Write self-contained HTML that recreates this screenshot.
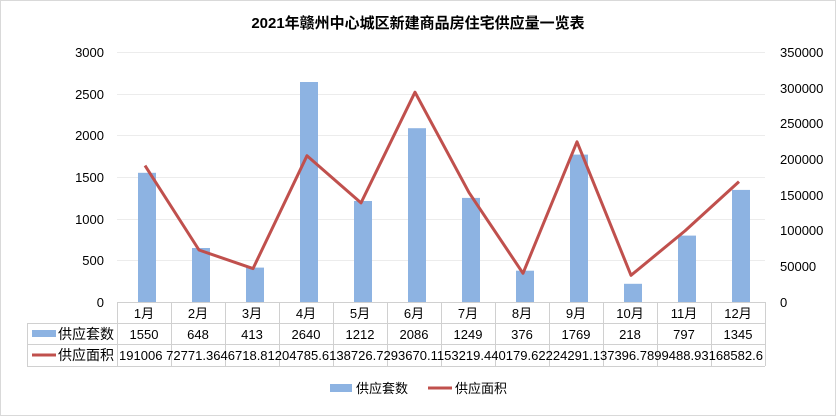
<!DOCTYPE html>
<html><head><meta charset="utf-8"><style>
html,body{margin:0;padding:0;background:#fff;}
svg{display:block;font-family:"Liberation Sans","Noto Sans CJK SC",sans-serif;}
</style></head><body>
<svg width="836" height="416" viewBox="0 0 836 416" xmlns="http://www.w3.org/2000/svg">
<rect x="0.5" y="0.5" width="835" height="415" fill="#fff" stroke="#d9d9d9"/>
<text x="418" y="28" text-anchor="middle" font-size="15" font-weight="bold" fill="#000">2021年赣州中心城区新建商品房住宅供应量一览表</text>
<g stroke="#ececec" stroke-width="1">
<line x1="117" y1="52.5" x2="765" y2="52.5"/>
<line x1="117" y1="94.5" x2="765" y2="94.5"/>
<line x1="117" y1="135.5" x2="765" y2="135.5"/>
<line x1="117" y1="177.5" x2="765" y2="177.5"/>
<line x1="117" y1="219.5" x2="765" y2="219.5"/>
<line x1="117" y1="260.5" x2="765" y2="260.5"/>
</g>
<g font-size="13" fill="#000" text-anchor="end">
<text x="104" y="57">3000</text><text x="104" y="99">2500</text><text x="104" y="140">2000</text>
<text x="104" y="182">1500</text><text x="104" y="224">1000</text><text x="104" y="265">500</text><text x="104" y="307">0</text>
</g>
<g font-size="13" fill="#000">
<text x="780" y="57">350000</text><text x="780" y="93">300000</text><text x="780" y="128">250000</text>
<text x="780" y="164">200000</text><text x="780" y="200">150000</text><text x="780" y="235">100000</text>
<text x="780" y="271">50000</text><text x="780" y="307">0</text>
</g>
<g fill="#8db3e2">
<rect x="138" y="172.8" width="18" height="129.2"/>
<rect x="192" y="248" width="18" height="54"/>
<rect x="246" y="267.6" width="18" height="34.4"/>
<rect x="300" y="82" width="18" height="220"/>
<rect x="354" y="201" width="18" height="101"/>
<rect x="408" y="128.2" width="18" height="173.8"/>
<rect x="462" y="197.9" width="18" height="104.1"/>
<rect x="516" y="270.7" width="18" height="31.3"/>
<rect x="570" y="154.6" width="18" height="147.4"/>
<rect x="624" y="283.8" width="18" height="18.2"/>
<rect x="678" y="235.6" width="18" height="66.4"/>
<rect x="732" y="189.9" width="18" height="112.1"/>
</g>
<polyline fill="none" stroke="#c0504d" stroke-width="3" stroke-linejoin="round" points="145,165.6 199,250 253,268.6 307,155.7 361,202.9 415,92.2 469,192.6 523,273.3 577,141.8 631,275.3 685,230.9 739,181.6"/>
<g stroke="#d0d0d0" stroke-width="1">
<line x1="117" y1="302.5" x2="765" y2="302.5"/>
<line x1="27" y1="323.5" x2="765" y2="323.5"/>
<line x1="27" y1="344.5" x2="765" y2="344.5"/>
<line x1="27" y1="366.5" x2="765" y2="366.5"/>
<line x1="27.5" y1="323" x2="27.5" y2="366"/>
<line x1="117.5" y1="302" x2="117.5" y2="366"/>
<line x1="171.5" y1="302" x2="171.5" y2="366"/>
<line x1="225.5" y1="302" x2="225.5" y2="366"/>
<line x1="279.5" y1="302" x2="279.5" y2="366"/>
<line x1="333.5" y1="302" x2="333.5" y2="366"/>
<line x1="387.5" y1="302" x2="387.5" y2="366"/>
<line x1="441.5" y1="302" x2="441.5" y2="366"/>
<line x1="495.5" y1="302" x2="495.5" y2="366"/>
<line x1="549.5" y1="302" x2="549.5" y2="366"/>
<line x1="603.5" y1="302" x2="603.5" y2="366"/>
<line x1="657.5" y1="302" x2="657.5" y2="366"/>
<line x1="711.5" y1="302" x2="711.5" y2="366"/>
<line x1="765.5" y1="302" x2="765.5" y2="366"/>
</g>
<g font-size="13" fill="#000" text-anchor="middle">
<text x="144" y="318">1月</text><text x="198" y="318">2月</text><text x="252" y="318">3月</text><text x="306" y="318">4月</text>
<text x="360" y="318">5月</text><text x="414" y="318">6月</text><text x="468" y="318">7月</text><text x="522" y="318">8月</text>
<text x="576" y="318">9月</text><text x="630" y="318">10月</text><text x="684" y="318">11月</text><text x="738" y="318">12月</text>
<text x="144" y="339">1550</text><text x="198" y="339">648</text><text x="252" y="339">413</text><text x="306" y="339">2640</text>
<text x="360" y="339">1212</text><text x="414" y="339">2086</text><text x="468" y="339">1249</text><text x="522" y="339">376</text>
<text x="576" y="339">1769</text><text x="630" y="339">218</text><text x="684" y="339">797</text><text x="738" y="339">1345</text>
</g>
<text x="119" y="360" font-size="13" fill="#000" textLength="644" lengthAdjust="spacingAndGlyphs">191006 72771.3646718.81204785.6138726.7293670.1153219.440179.62224291.137396.7899488.93168582.6</text>
<rect x="32" y="330" width="24" height="7" fill="#8db3e2"/>
<text x="58" y="339" font-size="14" fill="#000">供应套数</text>
<line x1="32" y1="355" x2="56" y2="355" stroke="#c0504d" stroke-width="3"/>
<text x="58" y="360" font-size="14" fill="#000">供应面积</text>
<rect x="330" y="384" width="22" height="8" fill="#8db3e2"/>
<text x="356" y="393" font-size="13" fill="#000">供应套数</text>
<line x1="428" y1="388" x2="452" y2="388" stroke="#c0504d" stroke-width="3"/>
<text x="455" y="393" font-size="13" fill="#000">供应面积</text>
</svg>
</body></html>
